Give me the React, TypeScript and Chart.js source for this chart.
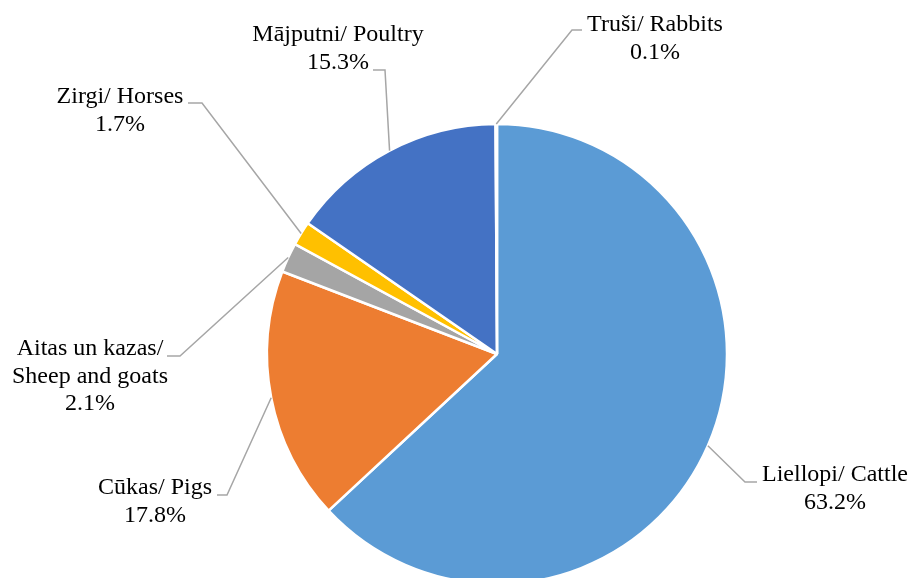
import React, { useEffect, useRef } from "react";
import { Chart, registerables } from "chart.js";

Chart.register(...registerables);

const categories = [
  "Liellopi/ Cattle",
  "Cūkas/ Pigs",
  "Aitas un kazas/\nSheep and goats",
  "Zirgi/ Horses",
  "Mājputni/ Poultry",
  "Truši/ Rabbits",
];
const shares = [63.2, 17.8, 2.1, 1.7, 15.3, 0.1];
const colors = ["#5B9BD5", "#ED7D31", "#A5A5A5", "#FFC000", "#4472C4", "#70AD47"];

// label layout: elbow point, end of horizontal stub, text centre and first-line y
const labelLayout = [
  { ex: 745, ey: 482, hx: 757, tx: 835, ty: 475 },
  { ex: 227, ey: 495, hx: 217, tx: 155, ty: 488 },
  { ex: 180, ey: 356, hx: 167, tx: 90, ty: 349 },
  { ex: 202, ey: 103, hx: 188, tx: 120, ty: 97 },
  { ex: 385, ey: 70, hx: 373, tx: 338, ty: 35 },
  { ex: 572, ey: 30, hx: 582, tx: 655, ty: 25 },
];

const FONT = "24px 'Liberation Serif', 'Times New Roman', serif";
const LINE_H = 27.5;

const labelPlugin = {
  id: "pieLabels",
  afterDatasetsDraw(chart: any) {
    const ctx = chart.ctx;
    const meta = chart.getDatasetMeta(0);
    ctx.save();
    meta.data.forEach((arc: any, i: number) => {
      const p = arc.getProps(["x", "y", "startAngle", "endAngle", "outerRadius"], true);
      const mid = (p.startAngle + p.endAngle) / 2;
      const sx = p.x + Math.cos(mid) * p.outerRadius;
      const sy = p.y + Math.sin(mid) * p.outerRadius;
      const L = labelLayout[i];
      ctx.strokeStyle = "#A6A6A6";
      ctx.lineWidth = 1.5;
      ctx.beginPath();
      ctx.moveTo(sx, sy);
      ctx.lineTo(L.ex, L.ey);
      ctx.lineTo(L.hx, L.ey);
      ctx.stroke();
      const lines = categories[i].split("\n").concat([shares[i].toFixed(1) + "%"]);
      ctx.fillStyle = "#000000";
      ctx.font = FONT;
      ctx.textAlign = "center";
      ctx.textBaseline = "middle";
      lines.forEach((t, k) => ctx.fillText(t, L.tx, L.ty + k * LINE_H));
    });
    ctx.restore();
  },
};

export default function App() {
  const ref = useRef<HTMLCanvasElement>(null);
  useEffect(() => {
    const chart = new Chart(ref.current!, {
      type: "pie",
      data: {
        labels: categories,
        datasets: [
          {
            data: shares,
            backgroundColor: colors,
            borderColor: "#FFFFFF",
            borderWidth: 2.5,
            radius: 230,
          } as any,
        ],
      },
      options: {
        animation: false,
        responsive: false,
        layout: { padding: { left: 267, right: 182, top: 124, bottom: 16 } },
        plugins: { legend: { display: false }, tooltip: { enabled: false } },
      },
      plugins: [labelPlugin],
    });
    return () => chart.destroy();
  }, []);
  return (
    <div
      style={{
        position: "fixed",
        left: 0,
        top: 0,
        width: 909,
        height: 578,
        overflow: "hidden",
        background: "#FFFFFF",
      }}
    >
      <canvas ref={ref} width={909} height={600} style={{ display: "block" }} />
    </div>
  );
}
